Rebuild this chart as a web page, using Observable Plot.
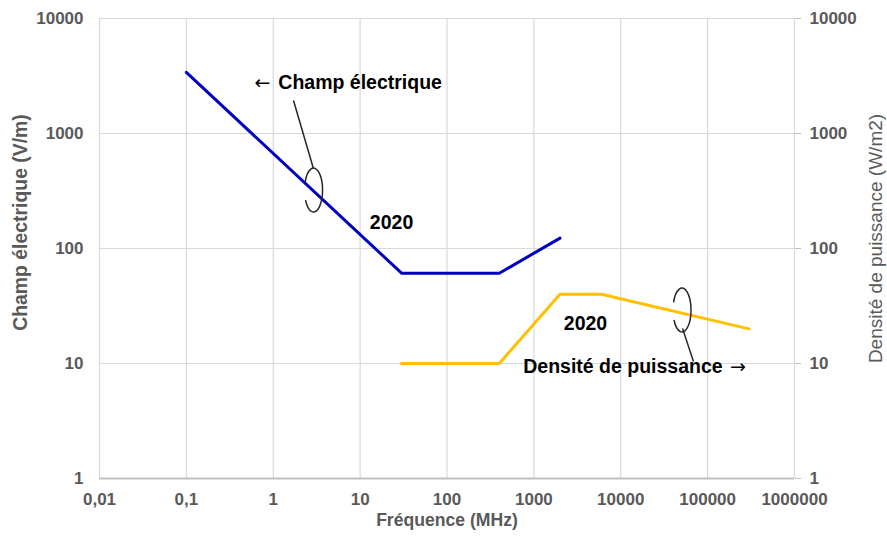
<!DOCTYPE html>
<html><head><meta charset="utf-8">
<script src="https://cdn.jsdelivr.net/npm/d3@7"></script>
<script src="https://cdn.jsdelivr.net/npm/@observablehq/plot@0.6"></script>
<style>body{margin:0;background:#fff} #chart svg{display:block}</style>
</head><body><div id="chart"></div>
<script>
// Series
const freqE = [0.1, 30, 400, 2000];
const champE = [3400, 61, 61, 123];
const freqS = [30, 400, 2000, 6000, 300000];
const densiteS = [10, 10, 40, 40, 20];

// Ticks
const xTicks = [0.01, 0.1, 1, 10, 100, 1000, 10000, 100000, 1000000];
const xTickLabels = ["0,01", "0,1", "1", "10", "100", "1000", "10000", "100000", "1000000"];
const yTicks = [1, 10, 100, 1000, 10000];
const yTickLabels = ["1", "10", "100", "1000", "10000"];

// Titles
const xTitle = "Fréquence (MHz)";
const yLeftTitle = "Champ électrique (V/m)";
const yRightTitle = "Densité de puissance (W/m2)";

// Annotations (data coordinates)
const annoText = ["Champ électrique", "2020", "2020", "Densité de puissance"];
const annoF = [10, 23, 3930, 10600];
const annoV = [2780, 168, 22.3, 9.4];
const arrowText = ["←", "→"];
const arrowF = [0.752, 224000];
const arrowV = [2780, 9.4];
const leaderF1 = [1.71, 51400];
const leaderV1 = [1936, 20.2];
const leaderF2 = [2.9, 68700];
const leaderV2 = [497, 10.4];
const loopF = [2.95, 51400];
const loopV = [319, 28.9];

const xLabel = new Map(xTicks.map((d, i) => [d, xTickLabels[i]]));
const yLabel = new Map(yTicks.map((d, i) => [d, yTickLabels[i]]));
const dataE = freqE.map((f, i) => ({f, v: champE[i]}));
const dataS = freqS.map((f, i) => ({f, v: densiteS[i]}));
const annos = annoText.map((t, i) => ({t, f: annoF[i], v: annoV[i]}));
const arrows = arrowText.map((t, i) => ({t, f: arrowF[i], v: arrowV[i]}));
const leaders = leaderF1.map((f, i) => ({f1: f, v1: leaderV1[i], f2: leaderF2[i], v2: leaderV2[i]}));

const grey = "#595959";
const font = "'Liberation Sans', Arial, sans-serif";

function loops(index, scales) {
  const g = d3.create("svg:g").attr("fill", "none").attr("stroke", "#262626").attr("stroke-width", 1.5);
  loopF.forEach((f, i) => {
    const cx = scales.x(f), cy = scales.y(loopV[i]);
    const rx = 9, ry = 22;
    const t0 = 200 * Math.PI / 180, t1 = 513 * Math.PI / 180;
    const x0 = cx + rx * Math.cos(t0), y0 = cy + ry * Math.sin(t0);
    const x1 = cx + rx * Math.cos(t1), y1 = cy + ry * Math.sin(t1);
    g.append("path").attr("d", `M${x0},${y0}A${rx},${ry} 0 1 1 ${x1},${y1}`);
  });
  return g.node();
}

const chart = Plot.plot({
  width: 887,
  height: 539,
  marginLeft: 99,
  marginRight: 93,
  marginTop: 18,
  marginBottom: 61,
  style: {fontFamily: font, background: "white"},
  x: {type: "log", domain: [0.01, 1000000]},
  y: {type: "log", domain: [1, 10000]},
  marks: [
    Plot.gridX(xTicks, {stroke: "#d9d9d9", strokeOpacity: 1, strokeWidth: 1.2}),
    Plot.gridY(yTicks, {stroke: "#d9d9d9", strokeOpacity: 1, strokeWidth: 1.2}),
    Plot.ruleY([1], {stroke: "#bfbfbf", strokeWidth: 2}),
    Plot.axisX(xTicks, {tickSize: 0, tickPadding: 14, tickFormat: d => xLabel.get(d), fill: grey, fontWeight: "bold", fontSize: 17, label: null}),
    Plot.axisY(yTicks, {anchor: "left", tickSize: 0, tickPadding: 16, tickFormat: d => yLabel.get(d), fill: grey, fontWeight: "bold", fontSize: 17, label: null}),
    Plot.axisY(yTicks, {anchor: "right", tickSize: 6, tickPadding: 9, stroke: "#bfbfbf", tickFormat: d => yLabel.get(d), fill: grey, fontWeight: "bold", fontSize: 17, label: null}),
    Plot.line(dataE, {x: "f", y: "v", stroke: "#0000C0", strokeWidth: 3}),
    Plot.line(dataS, {x: "f", y: "v", stroke: "#FFC000", strokeWidth: 3}),
    Plot.link(leaders, {x1: "f1", y1: "v1", x2: "f2", y2: "v2", stroke: "#262626", strokeWidth: 1.5}),
    loops,
    Plot.text(annos, {x: "f", y: "v", text: "t", fill: "#000", fontWeight: "bold", fontSize: 19.5, textAnchor: "middle", lineAnchor: "middle"}),
    Plot.text(arrows, {x: "f", y: "v", text: "t", fill: "#000", fontFamily: "'DejaVu Sans', sans-serif", fontWeight: "normal", fontSize: 19, textAnchor: "middle", lineAnchor: "middle"}),
    Plot.text([xTitle], {frameAnchor: "bottom", dy: 42, fill: grey, fontWeight: "bold", fontSize: 17.6, textAnchor: "middle", lineAnchor: "middle"}),
    Plot.text([yLeftTitle], {frameAnchor: "left", dx: -79, dy: -26, rotate: -90, fill: grey, fontWeight: "bold", fontSize: 19.4, textAnchor: "middle", lineAnchor: "middle"}),
    Plot.text([yRightTitle], {frameAnchor: "right", dx: 81, dy: -10, rotate: -90, fill: grey, fontWeight: "normal", fontSize: 19, textAnchor: "middle", lineAnchor: "middle"})
  ]
});
document.getElementById("chart").appendChild(chart);
</script>
</body></html>
